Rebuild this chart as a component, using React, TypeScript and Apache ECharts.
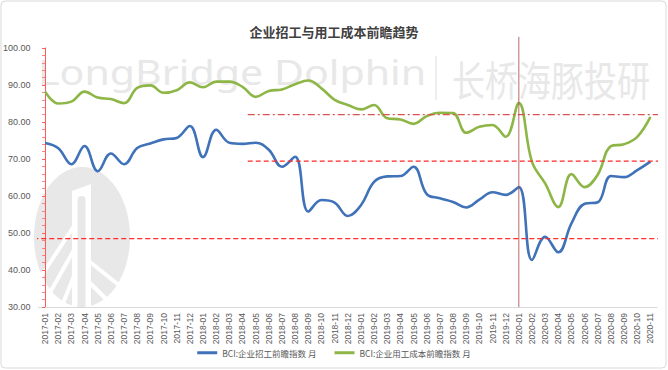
import React, { useEffect, useRef } from "react";
import * as echarts from "echarts";

const titleText = "企业招工与用工成本前瞻趋势";

const months = [
  "2017-01","2017-02","2017-03","2017-04","2017-05","2017-06","2017-07","2017-08","2017-09","2017-10","2017-11","2017-12",
  "2018-01","2018-02","2018-03","2018-04","2018-05","2018-06","2018-07","2018-08","2018-09","2018-10","2018-11","2018-12",
  "2019-01","2019-02","2019-03","2019-04","2019-05","2019-06","2019-07","2019-08","2019-09","2019-10","2019-11","2019-12",
  "2020-01","2020-02","2020-03","2020-04","2020-05","2020-06","2020-07","2020-08","2020-09","2020-10","2020-11",
];

const recruitName = "BCI:企业招工前瞻指数 月";
const recruitIndex = [
  74.3, 72.9, 68.6, 73.5, 66.7, 71.5, 68.6, 73.0, 74.2, 75.3, 75.7, 78.9,
  70.5, 77.9, 74.4, 74.1, 74.4, 72.5, 67.9, 70.6, 55.8, 58.9, 58.2, 54.6,
  57.5, 63.8, 65.3, 65.4, 67.9, 60.5, 59.4, 58.4, 56.9, 59.0, 61.0, 60.3,
  62.4, 42.7, 49.0, 44.8, 52.6, 57.9, 58.3, 65.4, 65.1, 67.0, 69.3,
];

const costName = "BCI:企业用工成本前瞻指数 月";
const costIndex = [
  88.2, 85.0, 85.5, 88.2, 86.6, 86.2, 85.1, 89.2, 89.9, 87.9, 88.6, 90.7,
  89.4, 90.9, 90.9, 89.5, 86.8, 88.4, 88.8, 90.2, 91.2, 89.1, 86.0, 84.6,
  83.4, 84.6, 81.0, 80.7, 79.5, 81.6, 82.5, 82.4, 77.1, 78.7, 79.2, 76.0,
  85.1, 69.2, 63.4, 57.0, 65.9, 62.4, 65.8, 73.5, 74.0, 76.0, 81.4,
];

// reference lines: [xStart, xEnd] on category-index scale, value level
const upperRefLevel = 82.0;
const middleRefLevel = 69.4;
const lowerRefLevel = 48.5;
const refStartIndex = 15.4;
const lowerRefStartIndex = -0.9;
const refEndIndex = 47.1;
const eventIndex = 36; // 2020-01
const eventTop = 103;

const yTicks = { min: 30, max: 100, interval: 10 };

export default function App() {
  const ref = useRef<HTMLDivElement>(null);

  useEffect(() => {
    if (!ref.current) return;
    const chart = echarts.init(ref.current, undefined, { renderer: "svg" });
    const grey = "#595959";
    const numFont = "Liberation Sans";
    const cjkFont = "Noto Sans CJK SC";
    const wm = "#e8e8e8";

    const refSeries = (data: number[][], color: string, type: any, width: number) => ({
      type: "line",
      xAxisIndex: 1,
      yAxisIndex: 0,
      data,
      symbol: "none",
      silent: true,
      clip: false,
      z: 4,
      lineStyle: { color, type, width },
      tooltip: { show: false },
    });

    chart.setOption({
      animation: false,
      backgroundColor: "#ffffff",
      title: {
        text: titleText,
        left: "center",
        top: 20,
        textStyle: { fontSize: 13, fontWeight: "bold", color: "#404040", fontFamily: cjkFont },
      },
      legend: {
        data: [recruitName, costName],
        bottom: 8,
        left: "center",
        itemWidth: 20,
        itemHeight: 3,
        itemGap: 18,
        icon: "rect",
        textStyle: { fontSize: 8.5, color: grey, fontFamily: cjkFont },
      },
      grid: { left: 35, right: 11, top: 48, bottom: 63, containLabel: false },
      graphic: [
        {
          type: "rect",
          shape: { x: 1, y: 1, width: 665, height: 367, r: 4 },
          style: { fill: "none", stroke: "#d9d9d9", lineWidth: 1 },
          z: 0,
          silent: true,
        },
        {
          type: "text",
          x: 38,
          y: 72,
          scaleX: 1.21,
          z: 0,
          silent: true,
          style: {
            text: "LongBridge Dolphin",
            fontSize: 34,
            fontFamily: "Noto Sans",
            fill: wm,
            textVerticalAlign: "middle",
          },
        },
        {
          type: "line",
          z: 0,
          silent: true,
          shape: { x1: 436, y1: 56, x2: 436, y2: 100 },
          style: { stroke: wm, lineWidth: 1.5 },
        },
        {
          type: "text",
          x: 452,
          y: 78,
          scaleY: 1.25,
          z: 0,
          silent: true,
          style: {
            text: "长桥海豚投研",
            fontSize: 33,
            fontFamily: cjkFont,
            fill: wm,
            textVerticalAlign: "middle",
          },
        },
        {
          type: "ellipse",
          z: 0,
          silent: true,
          shape: { cx: 82, cy: 237, rx: 48, ry: 70 },
          style: { fill: wm },
        },
        {
          type: "polygon",
          z: 0,
          silent: true,
          shape: { points: [[72, 191], [91, 184], [91, 307], [72, 307]] },
          style: { fill: "#ffffff" },
        },
        {
          type: "rect",
          z: 0,
          silent: true,
          shape: { x: 77.5, y: 196, width: 8, height: 111, r: [4, 4, 0, 0] },
          style: { fill: wm },
        },
        {
          type: "line", z: 0, silent: true,
          shape: { x1: 74, x2: 40, y1: 226, y2: 278 },
          style: { stroke: "#ffffff", lineWidth: 4 },
        },
        {
          type: "line", z: 0, silent: true,
          shape: { x1: 74, x2: 48, y1: 250, y2: 296 },
          style: { stroke: "#ffffff", lineWidth: 4 },
        },
        {
          type: "line", z: 0, silent: true,
          shape: { x1: 74, x2: 62, y1: 276, y2: 306 },
          style: { stroke: "#ffffff", lineWidth: 4 },
        },
        {
          type: "line", z: 0, silent: true,
          shape: { x1: 90, x2: 125, y1: 262, y2: 290 },
          style: { stroke: "#ffffff", lineWidth: 4 },
        },
        {
          type: "line", z: 0, silent: true,
          shape: { x1: 90, x2: 112, y1: 283, y2: 305 },
          style: { stroke: "#ffffff", lineWidth: 4 },
        },
      ],
      xAxis: [
        {
          type: "category",
          data: months,
          boundaryGap: true,
          axisLine: { show: true, lineStyle: { color: "#d9d9d9", width: 1 } },
          axisTick: { show: false },
          axisLabel: {
            interval: 0,
            rotate: 90,
            fontSize: 8.5,
            color: grey,
            fontFamily: numFont,
            margin: 6,
          },
          splitLine: { show: false },
        },
        {
          type: "value",
          min: -0.5,
          max: months.length - 0.5,
          show: false,
          splitLine: { show: false },
        },
      ],
      yAxis: {
        type: "value",
        min: yTicks.min,
        max: yTicks.max,
        interval: yTicks.interval,
        axisLine: { show: true, lineStyle: { color: "#ff5a5a", width: 1 } },
        axisTick: { show: true, length: 3, lineStyle: { color: "#ff5a5a" } },
        minorTick: { show: true, splitNumber: 5, length: 3, lineStyle: { color: "#ff8080" } },
        axisLabel: {
          fontSize: 9,
          color: grey,
          fontFamily: numFont,
          margin: 8,
          formatter: (v: number) => v.toFixed(2),
        },
        splitLine: { show: false },
      },
      series: [
        {
          name: recruitName,
          type: "line",
          data: recruitIndex,
          smooth: 0.4,
          symbol: "none",
          z: 3,
          lineStyle: { color: "#3f72b8", width: 2.6 },
          itemStyle: { color: "#3f72b8" },
        },
        {
          name: costName,
          type: "line",
          data: costIndex,
          smooth: 0.4,
          symbol: "none",
          z: 3,
          lineStyle: { color: "#8db646", width: 2.6 },
          itemStyle: { color: "#8db646" },
        },
        refSeries(
          [[refStartIndex, upperRefLevel], [refEndIndex, upperRefLevel]],
          "#d9534f",
          [7, 3, 2, 3],
          1.2
        ),
        refSeries(
          [[refStartIndex, middleRefLevel], [refEndIndex, middleRefLevel]],
          "#ff2a2a",
          [5, 3],
          1.2
        ),
        refSeries(
          [[lowerRefStartIndex, lowerRefLevel], [refEndIndex, lowerRefLevel]],
          "#ff2a2a",
          [5, 3],
          1.2
        ),
        refSeries(
          [[eventIndex, yTicks.min], [eventIndex, eventTop]],
          "#a94442",
          "solid",
          0.8
        ),
      ],
    });

    return () => chart.dispose();
  }, []);

  return (
    <div
      ref={ref}
      style={{ position: "fixed", left: 0, top: 0, width: 668, height: 370 }}
    />
  );
}
